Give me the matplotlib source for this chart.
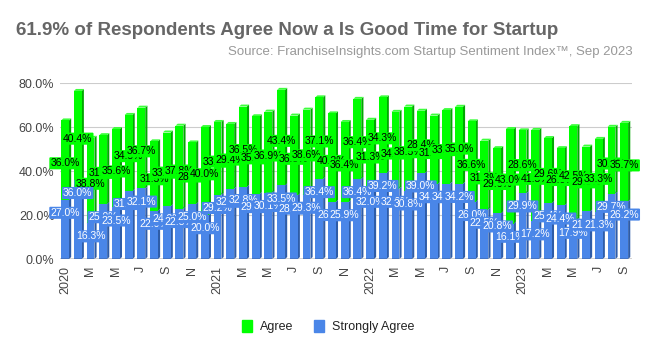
import matplotlib
matplotlib.use("Agg")
import matplotlib.pyplot as plt
import numpy as np
from matplotlib.patches import Patch, Polygon
from matplotlib.ticker import FuncFormatter

plt.rcParams["font.family"] = ["Liberation Sans", "DejaVu Sans"]

# monthly survey, Jan 2020 .. Sep 2023 (percent of respondents)
strongly_agree = [
    27.0, 36.0, 16.3, 25.0, 23.5, 31.0, 32.1, 22.0, 24.0, 22.8, 25.0, 20.0,
    29.2, 32.0, 32.8, 29.6, 30.1, 33.5, 28.9, 29.3, 36.4, 26.0, 25.9, 36.4,
    32.0, 39.2, 32.0, 30.8, 39.0, 34.1, 34.3, 34.2, 26.0, 22.5, 20.8, 16.1,
    29.9, 17.2, 25.4, 24.4, 17.9, 21.6, 21.3, 29.7, 26.2,
]
agree = [
    36.0, 40.4, 38.8, 31.3, 35.6, 34.5, 36.7, 31.5, 33.5, 37.8, 28.0, 40.0,
    33.1, 29.4, 36.5, 35.3, 36.9, 43.4, 36.3, 38.6, 37.1, 40.2, 36.4, 36.4,
    31.3, 34.3, 34.9, 38.5, 28.4, 31.1, 33.4, 35.0, 36.6, 31.3, 29.6, 43.0,
    28.6, 41.5, 29.6, 26.0, 42.5, 29.5, 33.3, 30.4, 35.7,
]
tick_labels = [
    "2020", "M", "M", "J", "S", "N",
    "2021", "M", "M", "J", "S", "N",
    "2022", "M", "M", "J", "S", "N",
    "2023", "M", "M", "J", "S",
]

GREEN, GREEN_SIDE, GREEN_TOP = "#00ff00", "#00a800", "#3cff3c"
BLUE, BLUE_SIDE, BLUE_TOP = "#4a86e8", "#2e5ca8", "#6f9ff0"
BAR_W = 0.62
DX, DY = 0.17, 0.9  # fake depth of the 3d bars (x units, percent)


def bars3d(ax, x, bottom, height, face, side, top):
    ax.bar(x, height, width=BAR_W, bottom=bottom, color=face, zorder=2)
    for xi, b, h in zip(x, bottom, height):
        x0, x1, t = xi - BAR_W / 2, xi + BAR_W / 2, b + h
        ax.add_patch(Polygon([(x1, b), (x1 + DX, b + DY), (x1 + DX, t + DY), (x1, t)],
                             closed=True, color=side, lw=0, zorder=1.9))
        ax.add_patch(Polygon([(x0, t), (x1, t), (x1 + DX, t + DY), (x0 + DX, t + DY)],
                             closed=True, color=top, lw=0, zorder=1.9))


sa = np.array(strongly_agree)
ag = np.array(agree)
x = np.arange(len(sa))

fig = plt.figure(figsize=(6.5, 3.38), dpi=100)
ax = fig.add_axes([0.0923, 0.2337, 0.8797, 0.5207])

bars3d(ax, x, np.zeros_like(sa), sa, BLUE, BLUE_SIDE, BLUE_TOP)
bars3d(ax, x, sa, ag, GREEN, GREEN_SIDE, GREEN_TOP)

lbl = dict(ha="center", va="center", fontsize=7.5, zorder=6)
for xi, s, a in zip(x, sa, ag):
    ax.text(xi, s + a / 2 - 1.5, f"{a:.1f}%", color="black",
            bbox=dict(boxstyle="round,pad=0.1", fc=GREEN, ec="none"), **lbl)
for xi, s in zip(x, sa):
    ax.text(xi, s - 6, f"{s:.1f}%", color="white",
            bbox=dict(boxstyle="round,pad=0.1", fc=BLUE, ec="none"), **lbl)

ax.set_xlim(-0.4, len(sa) - 0.4)
ax.set_ylim(0, 80)
ax.set_yticks([0, 20, 40, 60, 80])
ax.yaxis.set_major_formatter(FuncFormatter(lambda v, _: f"{v:.1f}%"))
ax.set_xticks(x[::2])
ax.set_xticklabels(tick_labels, rotation=90)
ax.tick_params(axis="both", length=0, labelsize=9, colors="#444444")
ax.tick_params(axis="x", pad=5)
ax.tick_params(axis="y", pad=4)
ax.grid(axis="y", color="#cccccc", lw=0.8, zorder=0)
ax.axhline(0, color="#333333", lw=1, zorder=3)
for sp in ax.spines.values():
    sp.set_visible(False)

fig.text(0.024, 0.911, "61.9% of Respondents Agree Now a Is Good Time for Startup",
         fontsize=13.5, fontweight="bold", color="#666666", va="center")
fig.text(0.974, 0.846, "Source: FranchiseInsights.com Startup Sentiment Index™, Sep 2023",
         fontsize=9.5, color="#999999", ha="right", va="center")

handles = [Patch(color=GREEN, label="Agree"), Patch(color=BLUE, label="Strongly Agree")]
fig.legend(handles=handles, loc="center", bbox_to_anchor=(0.505, 0.033), ncol=2,
           frameon=False, fontsize=9, handlelength=0.8, handleheight=1.1,
           columnspacing=1.6, handletextpad=0.7, labelcolor="#222222")

fig.savefig("out.png", dpi=100)
